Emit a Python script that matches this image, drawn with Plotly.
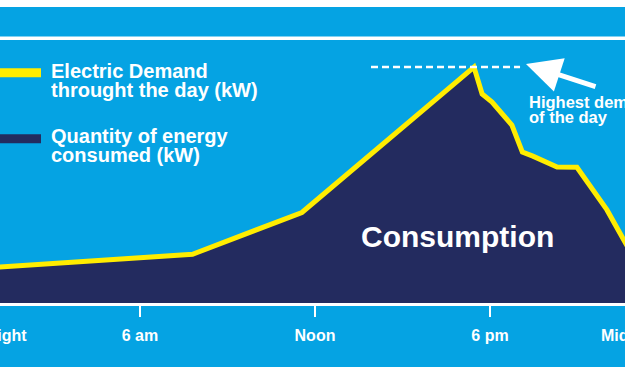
import plotly.graph_objects as go

# ---- data (hours of the day, demand in arbitrary kW units) ----
hours = [1.0, 7.8, 11.55, 17.45, 17.73, 18.07, 18.75, 19.11, 19.47, 20.3, 20.98, 22.01, 23.14]
demand_kw = [15.4, 21.0, 38.6, 100.0, 88.6, 85.2, 75.5, 64.1, 62.4, 57.8, 57.7, 39.7, 14.8]
tick_hours = [6, 12, 18]
tick_labels = ["6 am", "Noon", "6 pm"]
edge_label = "Midnight"
legend_line1 = ["Electric Demand", "throught the day (kW)"]
legend_line2 = ["Quantity of energy", "consumed (kW)"]
peak_note = ["Highest demand", "of the day"]
area_label = "Consumption"

W, H = 625, 375
BLUE = "#05A3E3"
NAVY = "#232B5F"
YELLOW = "#FFED00"
WHITE = "#FFFFFF"
FONT = "Liberation Sans"

def py(px):
    return 1 - px / H

def pxx(px):
    return px / W

fig = go.Figure()
fig.add_trace(go.Scatter(x=hours, y=demand_kw, mode="lines", fill="tozeroy",
                         fillcolor=NAVY, line=dict(color=YELLOW, width=5),
                         hoverinfo="skip", showlegend=False))

shapes = [
    dict(type="rect", xref="paper", yref="paper", x0=0, x1=1, y0=py(36.5), y1=py(7),
         fillcolor=BLUE, line=dict(width=0), layer="below"),
    dict(type="rect", xref="paper", yref="paper", x0=0, x1=1, y0=py(367), y1=py(40),
         fillcolor=BLUE, line=dict(width=0), layer="below"),
    # legend swatches
    dict(type="rect", xref="paper", yref="paper", x0=-0.01, x1=pxx(41), y0=py(77.3), y1=py(68.3),
         fillcolor=YELLOW, line=dict(width=0)),
    dict(type="rect", xref="paper", yref="paper", x0=-0.01, x1=pxx(41), y0=py(143.3), y1=py(134.3),
         fillcolor=NAVY, line=dict(width=0)),
    # highest demand dashed line
    dict(type="line", xref="x", yref="y", x0=13.92, x1=19.03,
         y0=max(demand_kw), y1=max(demand_kw),
         line=dict(color=WHITE, width=2.5, dash="7px,4px")),
]

def txt(s, x, ybase, size, anchor="left"):
    return dict(text="<b>" + s + "</b>", xref="paper", yref="paper",
                x=pxx(x), y=py(ybase - 0.3465 * size), xanchor=anchor, yanchor="middle",
                showarrow=False, font=dict(family=FONT, size=size, color=WHITE))

annotations = [
    txt(legend_line1[0], 49, 78.3, 20),
    txt(legend_line1[1], 49, 96.7, 20),
    txt(legend_line2[0], 49, 143.3, 20),
    txt(legend_line2[1], 49, 161.5, 20),
    txt(peak_note[0], 527, 107.5, 16.5),
    txt(peak_note[1], 527, 122.5, 16.5),
    txt(area_label, 457.5, 247, 30, anchor="center"),
    txt(edge_label, -6.3, 341, 16, anchor="center"),
    txt(edge_label, 634, 341, 16, anchor="center"),
    dict(text="", xref="paper", yref="paper", x=pxx(526), y=py(64), ax=71, ay=23,
         showarrow=True, arrowhead=2, arrowsize=1.4, arrowwidth=5, arrowcolor=WHITE, standoff=0),
]

k = 2.37  # px per unit
fig.update_layout(
    width=W, height=H,
    margin=dict(l=0, r=0, t=0, b=0),
    paper_bgcolor=WHITE, plot_bgcolor="rgba(0,0,0,0)",
    shapes=shapes, annotations=annotations,
    xaxis=dict(range=[1.2, 1.2 + W / 29.1667], tickvals=tick_hours,
               ticktext=["<b>" + t + "</b>" for t in tick_labels],
               showgrid=False, zeroline=False, showline=True, linecolor=WHITE, linewidth=3,
               ticks="outside", ticklen=11, tickwidth=2, tickcolor=WHITE,
               tickfont=dict(family=FONT, size=16, color=WHITE), ticklabelstandoff=5,
               anchor="free", position=71 / H),
    yaxis=dict(range=[-(H - 304) / k, 304 / k], visible=False),
    showlegend=False,
)

fig.write_html("out.html", config={"displayModeBar": False},
               post_script="document.body.style.margin='0';")
